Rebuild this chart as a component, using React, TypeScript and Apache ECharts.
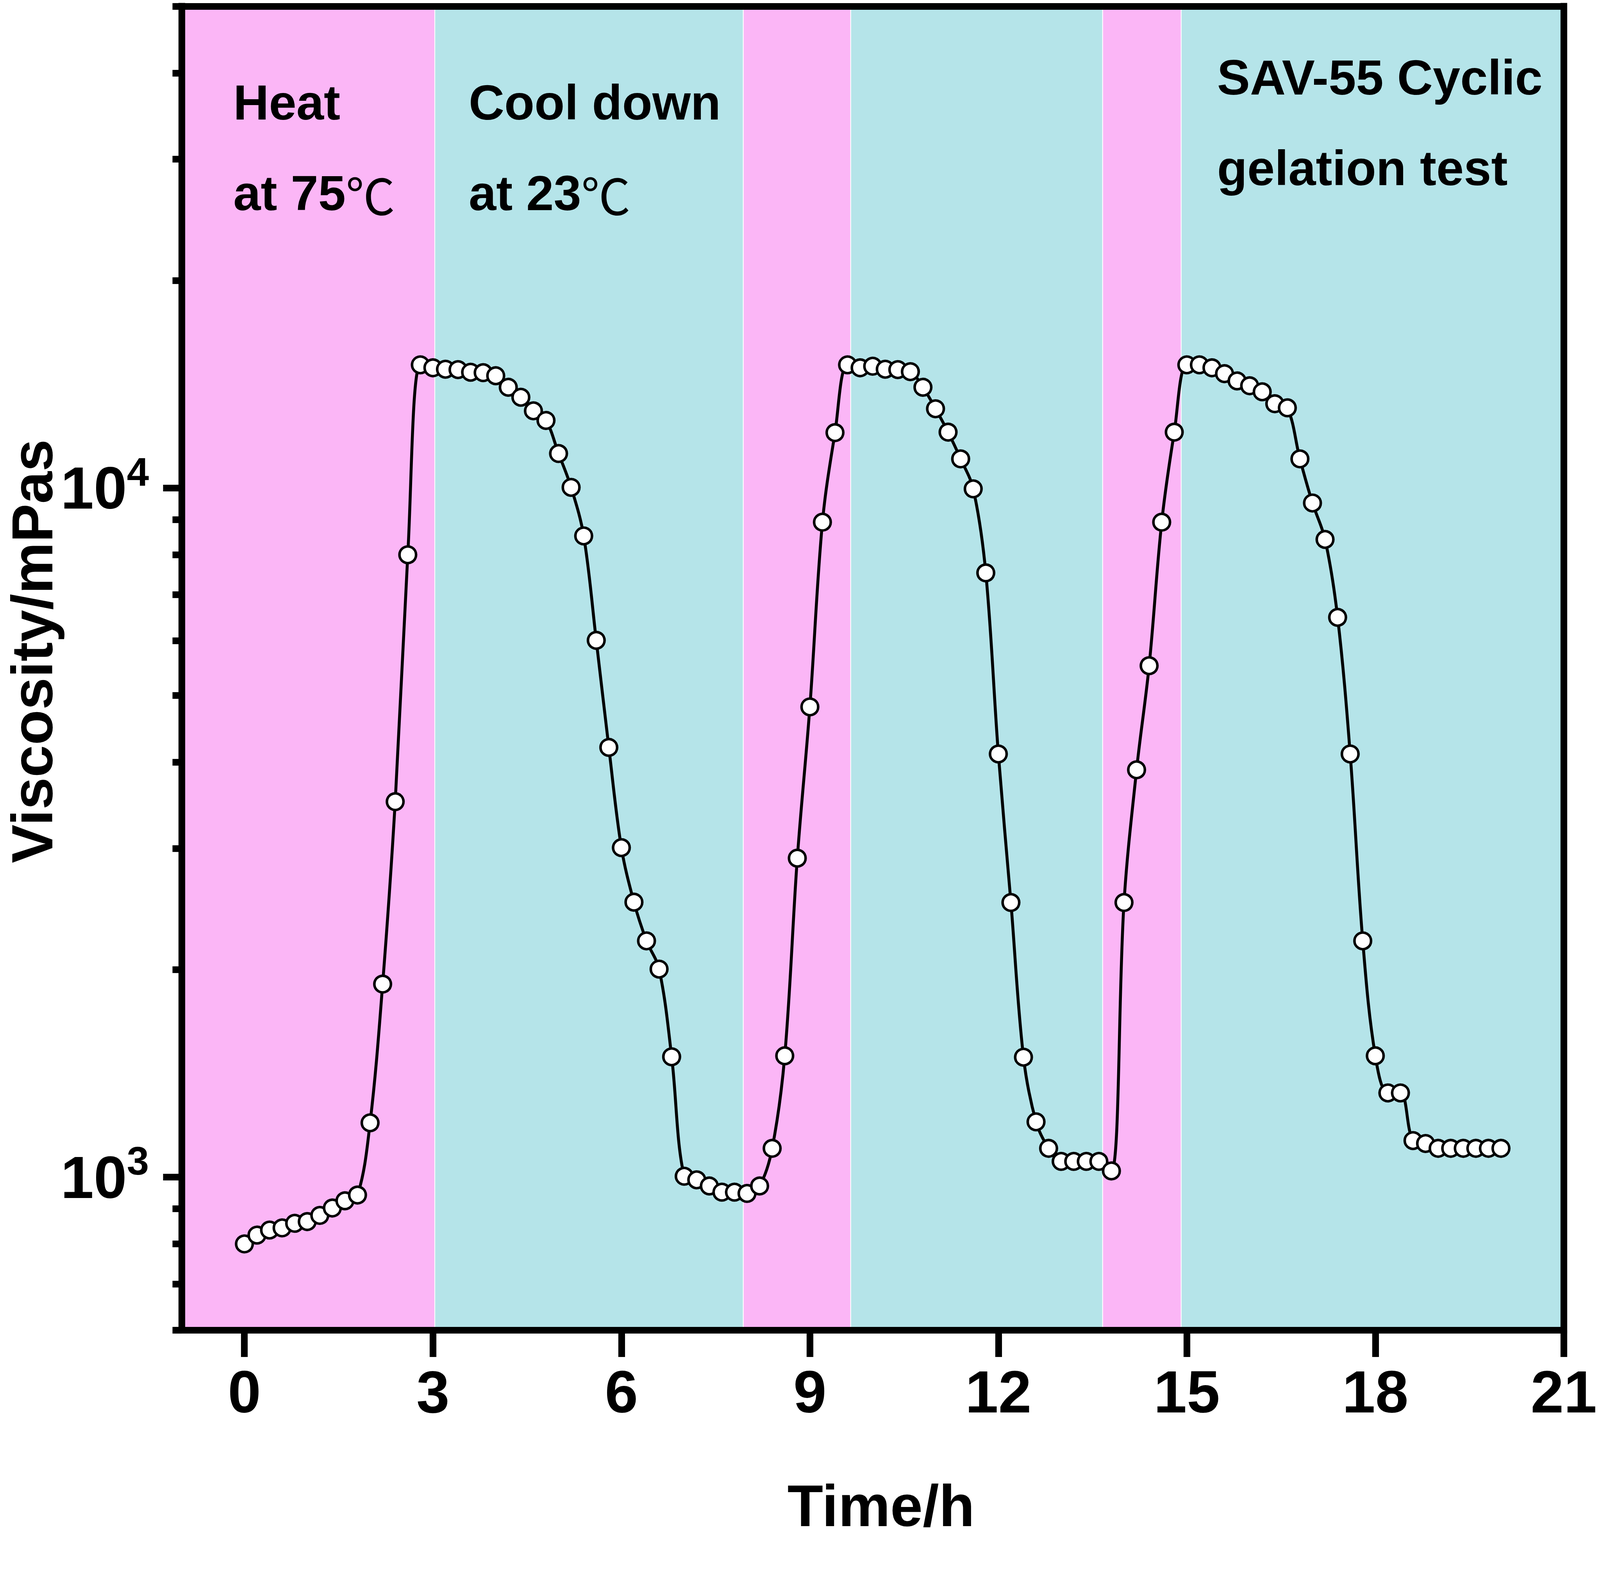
import { useEffect, useRef } from 'react';
import * as echarts from 'echarts';

const FONT = '"Liberation Sans", Arial, Helvetica, sans-serif';
const CJK_FONT = '"Noto Sans CJK SC", "DejaVu Sans", sans-serif';

// design size of the figure; everything below is laid out for it and scaled to the page
const BASE_W = 5967;
const BASE_H = 4027;

// time (h), one reading every 0.2 h
const times = [
  0, 0.2, 0.4, 0.6, 0.8, 1.0, 1.2, 1.4, 1.6, 1.8,
  2.0, 2.2, 2.4, 2.6, 2.8, 3.0, 3.2, 3.4, 3.6, 3.8,
  4.0, 4.2, 4.4, 4.6, 4.8, 5.0, 5.2, 5.4, 5.6, 5.8,
  6.0, 6.2, 6.4, 6.6, 6.8, 7.0, 7.2, 7.4, 7.6, 7.8,
  8.0, 8.2, 8.4, 8.6, 8.8, 9.0, 9.2, 9.4, 9.6, 9.8,
  10.0, 10.2, 10.4, 10.6, 10.8, 11.0, 11.2, 11.4, 11.6, 11.8,
  12.0, 12.2, 12.4, 12.6, 12.8, 13.0, 13.2, 13.4, 13.6, 13.8,
  14.0, 14.2, 14.4, 14.6, 14.8, 15.0, 15.2, 15.4, 15.6, 15.8,
  16.0, 16.2, 16.4, 16.6, 16.8, 17.0, 17.2, 17.4, 17.6, 17.8,
  18.0, 18.2, 18.4, 18.6, 18.8, 19.0, 19.2, 19.4, 19.6, 19.8,
  20.0,
];

// viscosity (mPas)
const viscosity = [
  800, 824, 838, 844, 857, 862, 880, 902, 924, 942,
  1199, 1906, 3506, 8000, 15090, 14940, 14870, 14850, 14720, 14700,
  14550, 14000, 13540, 12940, 12530, 11220, 10020, 8520, 6010, 4203,
  3007, 2506, 2202, 2004, 1495, 1003, 991, 971, 951, 951,
  947, 971, 1101, 1500, 2903, 4812, 8920, 12030, 15090, 14940,
  15020, 14870, 14850, 14750, 14000, 13030, 12050, 11020, 9970, 7530,
  4112, 2503, 1493, 1203, 1101, 1054, 1054, 1054, 1054, 1021,
  2503, 3900, 5522, 8920, 12050, 15090, 15090, 14940, 14650, 14300,
  14070, 13790, 13250, 13070, 11020, 9510, 8420, 6490, 4112, 2202,
  1500, 1325, 1325, 1130, 1119, 1101, 1101, 1101, 1101, 1101,
  1101,
];

// heating / cooling periods (h)
const bandStart = [-1, 3.03, 7.94, 9.65, 13.66, 14.91];
const bandEnd = [3.03, 7.94, 9.65, 13.66, 14.91, 21];
const bandKind = ['heat', 'cool', 'heat', 'cool', 'heat', 'cool'];
const BAND_COLOR: Record<string, string> = { heat: '#FBB6F6', cool: '#B5E4E9' };

const xTicks = [0, 3, 6, 9, 12, 15, 18, 21];
const yMajor = [1000, 10000];
const yMinor = [
  600, 700, 800, 900,
  2000, 3000, 4000, 5000, 6000, 7000, 8000, 9000,
  20000, 30000, 40000, 50000,
];

// annotation lines (text, left, vertical middle) in design pixels
const notes: [string, number, number][] = [
  ['Heat', 870, 262],
  ['at 75{d|℃}', 870, 494],
  ['Cool down', 1748, 262],
  ['at 23{d|℃}', 1748, 494],
  ['SAV-55 Cyclic', 4539, 198],
  ['gelation test', 4539, 430],
];

function buildOption(w: number, h: number) {
  const sx = w / BASE_W;
  const sy = h / BASE_H;
  const s = Math.min(sx, sy);

  const lw = 25 * s;
  const axisLine = { show: true, onZero: false, lineStyle: { color: '#000', width: lw, cap: 'square' } };
  const boldText = { fontFamily: FONT, fontWeight: 'bold', color: '#000' };

  const areas = bandStart.map((st, i) => [
    { xAxis: st, itemStyle: { color: BAND_COLOR[bandKind[i]], borderColor: '#fff', borderWidth: 3 * s } },
    { xAxis: bandEnd[i] },
  ]);

  const noteSize = 184 * s;

  return {
    animation: false,
    backgroundColor: '#fff',
    grid: { left: 677 * sx, right: 135 * sx, top: 16 * sy, bottom: 622 * sy, containLabel: false },
    xAxis: [
      {
        type: 'value',
        min: -1,
        max: 21,
        position: 'bottom',
        z: 10,
        axisLine,
        axisTick: { show: true, length: 69 * sy, customValues: xTicks, lineStyle: { color: '#000', width: lw } },
        axisLabel: { customValues: xTicks, margin: 82 * sy, fontSize: 222 * s, ...boldText },
        splitLine: { show: false },
        name: 'Time/h',
        nameLocation: 'middle',
        nameGap: 375 * sy,
        nameMoveOverlap: false,
        nameTextStyle: { fontSize: 218 * s, padding: [0, 0, 0, 62 * sx], ...boldText },
      },
      {
        type: 'value',
        min: -1,
        max: 21,
        position: 'top',
        z: 10,
        axisLine,
        axisTick: { show: false },
        axisLabel: { show: false },
        splitLine: { show: false },
      },
    ],
    yAxis: [
      {
        type: 'log',
        logBase: 10,
        min: 600,
        max: 50000,
        position: 'left',
        z: 10,
        axisLine,
        axisTick: { show: true, length: 69 * sx, customValues: yMajor, lineStyle: { color: '#000', width: lw } },
        axisLabel: {
          customValues: yMajor,
          margin: 122 * sx,
          formatter: (v: number) => `{b|10}{s|${Math.round(Math.log10(v))}}`,
          rich: {
            b: { fontSize: 222 * s, lineHeight: 270 * s, ...boldText },
            s: { fontSize: 148 * s, lineHeight: 148 * s, verticalAlign: 'top', ...boldText },
          },
        },
        splitLine: { show: false },
        minorTick: { show: false },
        name: 'Viscosity/mPas',
        nameLocation: 'middle',
        nameGap: 450 * sx,
        nameMoveOverlap: false,
        nameTextStyle: { fontSize: 216 * s, padding: [0, 0, 0, 126 * s], ...boldText },
      },
      {
        // minor ticks only
        type: 'log',
        logBase: 10,
        min: 600,
        max: 50000,
        position: 'left',
        z: 10,
        axisLine: { show: false, onZero: false },
        axisTick: { show: true, length: 34 * sx, customValues: yMinor, lineStyle: { color: '#000', width: lw } },
        axisLabel: { show: false },
        splitLine: { show: false },
      },
      {
        type: 'log',
        logBase: 10,
        min: 600,
        max: 50000,
        position: 'right',
        z: 10,
        axisLine,
        axisTick: { show: false },
        axisLabel: { show: false },
        splitLine: { show: false },
      },
    ],
    graphic: notes.map(([text, x, y]) => ({
      type: 'text',
      z: 20,
      x: x * sx,
      y: y * sy,
      style: {
        text,
        fill: '#000',
        fontFamily: FONT,
        fontWeight: 'bold',
        fontSize: noteSize,
        align: 'left',
        verticalAlign: 'middle',
        rich: {
          d: { fontFamily: CJK_FONT, fontWeight: 'normal', fontSize: noteSize, fill: '#000' },
        },
      },
    })),
    series: [
      {
        type: 'line',
        xAxisIndex: 0,
        yAxisIndex: 0,
        z: 3,
        data: times.map((t, i) => [t, viscosity[i]]),
        smooth: 0.35,
        symbol: 'circle',
        symbolSize: 62 * s,
        showAllSymbol: true,
        lineStyle: { color: '#000', width: 11 * s },
        itemStyle: { color: '#fff', borderColor: '#000', borderWidth: 9.5 * s },
        emphasis: { disabled: true },
        markArea: { silent: true, z: 1, data: areas },
      },
    ],
  };
}

export default function App() {
  const ref = useRef<HTMLDivElement>(null);

  useEffect(() => {
    const el = ref.current;
    if (!el) return;
    const chart = echarts.init(el, null, { renderer: 'svg' });
    const draw = () => {
      chart.resize();
      chart.setOption(buildOption(el.clientWidth, el.clientHeight), true);
    };
    draw();
    window.addEventListener('resize', draw);
    return () => {
      window.removeEventListener('resize', draw);
      chart.dispose();
    };
  }, []);

  return (
    <div
      ref={ref}
      style={{ position: 'fixed', left: 0, top: 0, width: '100vw', height: '100vh', background: '#fff' }}
    />
  );
}
